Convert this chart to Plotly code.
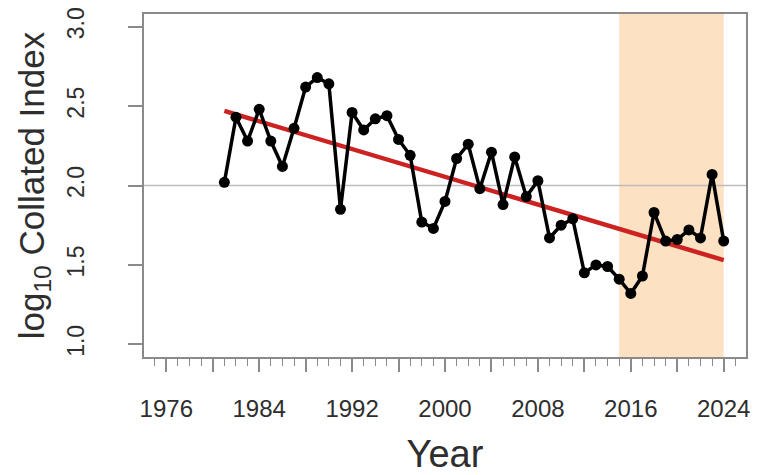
import plotly.graph_objects as go

years = list(range(1981, 2025))
index_vals = [2.02, 2.43, 2.28, 2.48, 2.28, 2.12, 2.36, 2.62, 2.68, 2.64,
              1.85, 2.46, 2.35, 2.42, 2.44, 2.29, 2.19, 1.77, 1.73, 1.90,
              2.17, 2.26, 1.98, 2.21, 1.88, 2.18, 1.93, 2.03, 1.67, 1.75,
              1.79, 1.45, 1.50, 1.49, 1.41, 1.32, 1.43, 1.83, 1.65, 1.66,
              1.72, 1.67, 2.07, 1.65]

trend_years = [1981, 2024]
trend_vals = [2.47, 1.53]

shade_start, shade_end = 2015, 2024
ref_level = 2.0

x_tickvals = list(range(1976, 2025, 4))
x_ticktext = [str(v) if (v - 1976) % 8 == 0 else "" for v in x_tickvals]
y_tickvals = [1.0, 1.5, 2.0, 2.5, 3.0]
y_ticktext = ["1.0", "1.5", "2.0", "2.5", "3.0"]

FONT = "Liberation Sans, Arial, sans-serif"
TXT = "#2e2e2e"
AX = "#8a8a8a"

fig = go.Figure()

fig.add_shape(type="rect", xref="x", yref="paper", x0=shade_start, x1=shade_end,
              y0=0, y1=1, fillcolor="#FCE1C2", line_width=0, layer="below")
fig.add_shape(type="line", xref="paper", yref="y", x0=0, x1=1, y0=ref_level, y1=ref_level,
              line=dict(color="#bdbdbd", width=1.5), layer="below")

fig.add_trace(go.Scatter(x=trend_years, y=trend_vals, mode="lines",
                         line=dict(color="#cc2222", width=4.5), showlegend=False))
fig.add_trace(go.Scatter(x=years, y=index_vals, mode="lines+markers",
                         line=dict(color="black", width=3.5),
                         marker=dict(color="black", size=11), showlegend=False))

# page body adds an 8px offset, so the figure is 8px smaller than the window
fig.update_layout(
    width=763, height=467,
    margin=dict(l=136, r=25, t=6, b=118),
    plot_bgcolor="white", paper_bgcolor="white",
    font=dict(family=FONT, color=TXT),
)
fig.update_xaxes(
    range=[1974.08, 2025.92], showgrid=False, zeroline=False, automargin=False,
    showline=True, mirror=True, linecolor=AX, linewidth=1.5,
    tickmode="array", tickvals=x_tickvals, ticktext=x_ticktext,
    ticks="outside", ticklen=13, tickcolor=AX, tickwidth=1.5,
    tickfont=dict(size=24, color=TXT), ticklabelstandoff=16, ticklabeloverflow="allow",
    minor=dict(ticks="outside", ticklen=7, tickcolor=AX, tickwidth=1, dtick=1, tick0=1976, showgrid=False),
    title=dict(text="Year", font=dict(size=38, color=TXT), standoff=24),
)
fig.update_yaxes(
    range=[0.92, 3.08], showgrid=False, zeroline=False, automargin=False,
    showline=True, mirror=True, linecolor=AX, linewidth=1.5,
    tickmode="array", tickvals=y_tickvals, ticktext=y_ticktext, tickangle=-90,
    ticks="outside", ticklen=14, tickcolor=AX, tickwidth=1.5,
    tickfont=dict(size=23, color=TXT), ticklabelstandoff=35, ticklabeloverflow="allow",
    title=dict(text="log<sub>10</sub> Collated Index", font=dict(size=35, color=TXT), standoff=8),
)

fig.write_html("out.html")
